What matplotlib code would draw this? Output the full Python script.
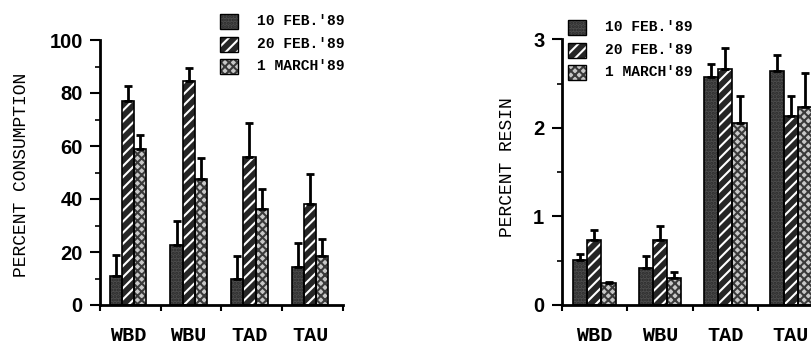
import matplotlib
matplotlib.use("Agg")
import matplotlib.pyplot as plt
from matplotlib.patches import Rectangle
import numpy as np

plt.rcParams['hatch.linewidth'] = 1.5

sites = ["WBD", "WBU", "TAD", "TAU"]
dates = ["10 FEB.'89", "20 FEB.'89", "1 MARCH'89"]

# Percent consumption (bar top) and upper error bar
cons_feb10 = [11, 22.6, 10, 14.2]
cons_feb20 = [77, 84.5, 55.7, 38]
cons_mar1 = [59, 47.4, 36.2, 18.5]
cons_err_feb10 = [8, 9.2, 8.5, 9.1]
cons_err_feb20 = [5.6, 4.8, 13.1, 11.4]
cons_err_mar1 = [5, 7.9, 7.5, 6.5]

# Percent resin
resin_feb10 = [0.51, 0.42, 2.57, 2.64]
resin_feb20 = [0.73, 0.73, 2.67, 2.13]
resin_mar1 = [0.245, 0.30, 2.06, 2.24]
resin_err_feb10 = [0.07, 0.13, 0.15, 0.18]
resin_err_feb20 = [0.12, 0.16, 0.23, 0.23]
resin_err_mar1 = [0.015, 0.07, 0.30, 0.38]

W, H = 812, 347
fig = plt.figure(figsize=(W / 100, H / 100), dpi=100)

styles = [
    dict(face='#4d4d4d', hatch='.....', hcol='#2a2a2a'),
    dict(face='#262626', hatch='///', hcol='white'),
    dict(face='#c8c8c8', hatch='xxxx', hcol='#3a3a3a'),
]

MONO = ['Liberation Mono', 'DejaVu Sans Mono']
SANS = ['Liberation Sans', 'DejaVu Sans']


def draw_bar(ax, x, h, w, st):
    ax.bar(x, h, w, color=st['face'], edgecolor=st['hcol'], hatch=st['hatch'],
           linewidth=0, zorder=2)
    ax.bar(x, h, w, fill=False, edgecolor='black', linewidth=1.2, zorder=3)


def panel(ax, series, errs, width, shift, ylim, major, minor):
    x = np.arange(len(sites))
    for i, (vals, ev) in enumerate(zip(series, errs)):
        xi = x + shift + (i - 1) * width
        draw_bar(ax, xi, vals, width, styles[i])
        ax.errorbar(xi, vals, yerr=[np.zeros(len(ev)), ev], fmt='none',
                    ecolor='black', elinewidth=2, capsize=2.8, capthick=2,
                    zorder=4)
    ax.set_xlim(-0.5, len(sites) - 0.5)
    ax.set_ylim(*ylim)
    ax.spines['top'].set_visible(False)
    ax.spines['right'].set_visible(False)
    ax.spines['left'].set_linewidth(2)
    ax.spines['bottom'].set_linewidth(2)
    ax.set_yticks(major)
    ax.set_yticks(minor, minor=True)
    ax.set_xticks(np.arange(-0.5, len(sites)))
    ax.set_xticklabels([])
    ax.set_xticks(x + shift, minor=True)
    ax.set_xticklabels(sites, minor=True, fontfamily=MONO, fontweight='bold',
                       fontsize=14.5)
    ax.tick_params(axis='x', which='major', direction='out', length=4,
                   width=1.5)
    ax.tick_params(axis='x', which='minor', length=0, pad=15)
    ax.tick_params(axis='y', which='major', direction='out', length=7,
                   width=1.5, pad=5.5)
    ax.tick_params(axis='y', which='minor', direction='out', length=3.5,
                   width=1.2)
    for lab in ax.get_yticklabels():
        lab.set_fontfamily(SANS)
        lab.set_fontweight('bold')
        lab.set_fontsize(14.5)
    ax.set_facecolor('none')


ax1 = fig.add_axes([100 / W, (H - 305) / H, 243 / W, 265 / H])
panel(ax1, [cons_feb10, cons_feb20, cons_mar1],
      [cons_err_feb10, cons_err_feb20, cons_err_mar1],
      0.2, -0.04, (0, 100), np.arange(0, 101, 20), np.arange(10, 100, 20))

ax2 = fig.add_axes([561.7 / W, (H - 305) / H, 262 / W, 265.7 / H])
panel(ax2, [resin_feb10, resin_feb20, resin_mar1],
      [resin_err_feb10, resin_err_feb20, resin_err_mar1],
      0.215, 0.0, (0, 3), np.arange(0, 4, 1), np.arange(0.5, 3, 1))

fig.text(21.7 / W, 1 - 175 / H, 'PERCENT CONSUMPTION', rotation=90,
         ha='center', va='center', fontfamily=MONO, fontsize=13)
fig.text(508 / W, 1 - 167 / H, 'PERCENT RESIN', rotation=90,
         ha='center', va='center', fontfamily=MONO, fontsize=13)


def legend(x0, ys, tx):
    for st, y, lab in zip(styles, ys, dates):
        r1 = Rectangle((x0 / W, 1 - (y + 7.5) / H), 18 / W, 15 / H,
                       transform=fig.transFigure, facecolor=st['face'],
                       edgecolor=st['hcol'], hatch=st['hatch'], linewidth=0)
        r2 = Rectangle((x0 / W, 1 - (y + 7.5) / H), 18 / W, 15 / H,
                       transform=fig.transFigure, fill=False,
                       edgecolor='black', linewidth=1.0)
        fig.add_artist(r1)
        fig.add_artist(r2)
        fig.text(tx / W, 1 - y / H, lab, ha='left', va='center',
                 fontfamily=MONO, fontweight='bold', fontsize=10.5)


legend(220, [21, 44, 66], 257)
legend(568, [27, 50, 72], 605)

fig.savefig('out.png', dpi=100)
